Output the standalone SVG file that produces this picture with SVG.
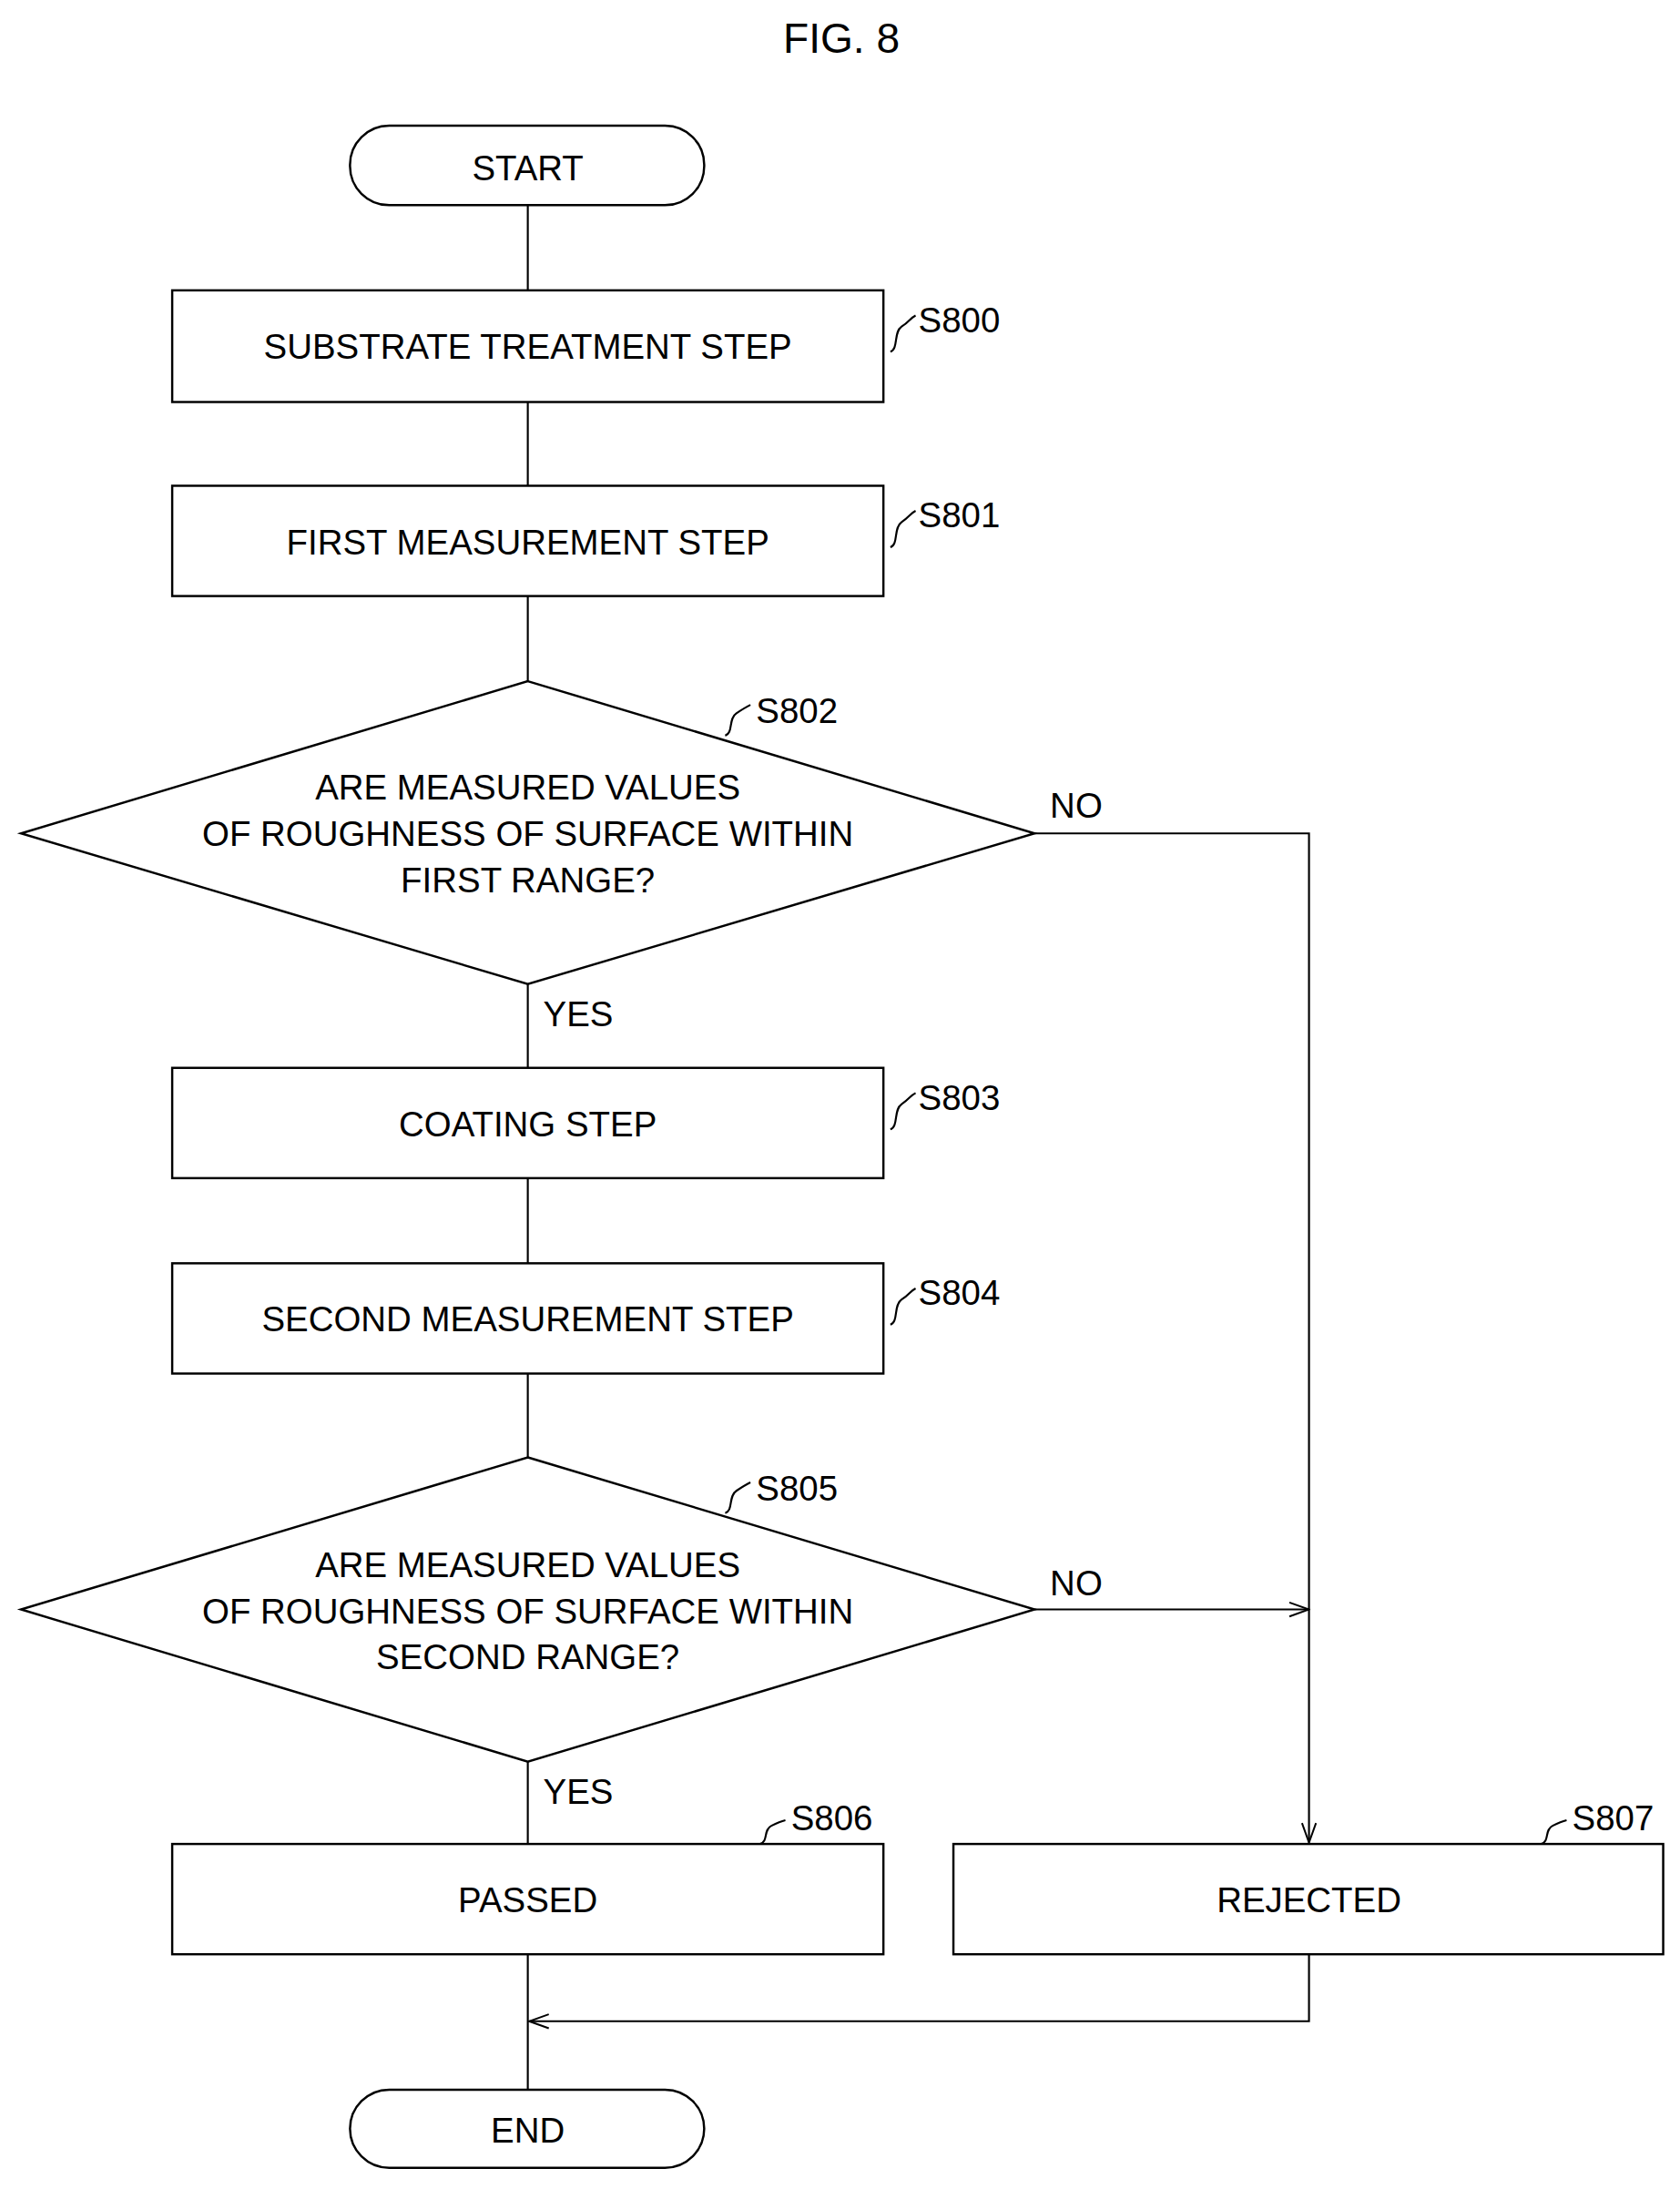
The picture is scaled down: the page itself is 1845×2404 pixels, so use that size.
<svg xmlns="http://www.w3.org/2000/svg" width="1845" height="2404" viewBox="0 0 1845 2404">
<style>
.s{fill:#fff;stroke:#000;stroke-width:1.6}
.c{fill:none;stroke:#000;stroke-width:1.4}
text{font-family:"Liberation Sans",Arial,sans-serif;font-size:25px;fill:#000}
.m{text-anchor:middle}
</style>
<defs>
<marker id="a" markerWidth="16" markerHeight="12" refX="15" refY="6" orient="auto" markerUnits="userSpaceOnUse">
<path d="M1,1 L15,6 L1,11" fill="none" stroke="#000" stroke-width="1.3"/>
</marker>
</defs>
<rect width="1845" height="2404" fill="#fff"/>
<g transform="scale(1.5375,1.533)">
<text x="601" y="38" class="m" style="font-size:30px">FIG. 8</text>
<g id="connectors">
<path class="c" d="M377,147V208M377,288V348M377,427V488M377,705V765M377,844V905M377,984V1044M377,1262V1321M377,1400V1497"/>
<path class="c" d="M739,597H935V1320" marker-end="url(#a)"/>
<path class="c" d="M739,1153H935" marker-end="url(#a)"/>
<path class="c" d="M935,1400V1448H378" marker-end="url(#a)"/>
<text x="750" y="586">NO</text>
<text x="750" y="1143">NO</text>
<text x="388" y="735">YES</text>
<text x="388" y="1292">YES</text>
</g>
<g id="start"><rect class="s" x="250" y="90" width="253" height="57" rx="28"/><text x="377" y="129" class="m">START</text></g>
<g id="S800"><rect class="s" x="123" y="208" width="508" height="80"/><text x="377" y="257" class="m">SUBSTRATE TREATMENT STEP</text>
<path class="c" d="M636,252c6,-2 2,-14 8,-18s6,-6 10,-8"/><text x="656" y="238">S800</text></g>
<g id="S801"><rect class="s" x="123" y="348" width="508" height="79"/><text x="377" y="397" class="m">FIRST MEASUREMENT STEP</text>
<path class="c" d="M636,392c6,-2 2,-14 8,-18s6,-6 10,-8"/><text x="656" y="378">S801</text></g>
<g id="S802"><polygon class="s" points="377,488 739,597 377,705 15,597"/>
<text x="377" y="573" class="m">ARE MEASURED VALUES</text><text x="377" y="606" class="m">OF ROUGHNESS OF SURFACE WITHIN</text><text x="377" y="639" class="m">FIRST RANGE?</text>
<path class="c" d="M518,527c6,-2 2,-12 8,-16s6,-4 10,-6"/><text x="540" y="518">S802</text></g>
<g id="S803"><rect class="s" x="123" y="765" width="508" height="79"/><text x="377" y="814" class="m">COATING STEP</text>
<path class="c" d="M636,809c6,-2 2,-14 8,-18s6,-6 10,-8"/><text x="656" y="795">S803</text></g>
<g id="S804"><rect class="s" x="123" y="905" width="508" height="79"/><text x="377" y="954" class="m">SECOND MEASUREMENT STEP</text>
<path class="c" d="M636,949c6,-2 2,-14 8,-18s6,-6 10,-8"/><text x="656" y="935">S804</text></g>
<g id="S805"><polygon class="s" points="377,1044 739,1153 377,1262 15,1153"/>
<text x="377" y="1130" class="m">ARE MEASURED VALUES</text><text x="377" y="1163" class="m">OF ROUGHNESS OF SURFACE WITHIN</text><text x="377" y="1196" class="m">SECOND RANGE?</text>
<path class="c" d="M518,1084c6,-2 2,-12 8,-16s6,-4 10,-6"/><text x="540" y="1075">S805</text></g>
<g id="S806"><rect class="s" x="123" y="1321" width="508" height="79"/><text x="377" y="1370" class="m">PASSED</text>
<path class="c" d="M543,1321c6,-2 2,-10 8,-13s6,-3 10,-4"/><text x="565" y="1311">S806</text></g>
<g id="S807"><rect class="s" x="681" y="1321" width="507" height="79"/><text x="935" y="1370" class="m">REJECTED</text>
<path class="c" d="M1101,1321c6,-2 2,-10 8,-13s6,-3 10,-4"/><text x="1123" y="1311">S807</text></g>
<g id="end"><rect class="s" x="250" y="1497" width="253" height="56" rx="28"/><text x="377" y="1535" class="m">END</text></g>
</g>
</svg>
